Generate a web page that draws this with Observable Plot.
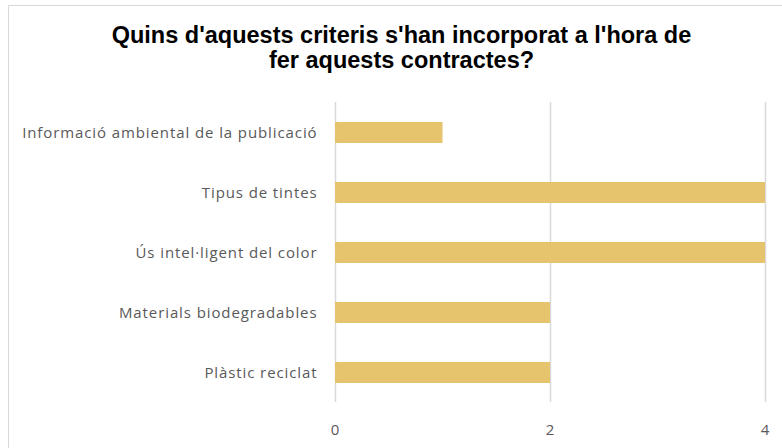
<!DOCTYPE html>
<html>
<head>
<meta charset="utf-8">
<script src="https://cdn.jsdelivr.net/npm/d3@7"></script>
<script src="https://cdn.jsdelivr.net/npm/@observablehq/plot@0.6"></script>
<style>
  html, body { margin: 0; padding: 0; background: #fff; }
  #wrap { position: relative; width: 782px; height: 448px; overflow: hidden; }
  #frame { position: absolute; left: 8px; top: 5px; width: 800px; height: 500px; border: 1px solid #d9d9d9; box-sizing: border-box; }
  #title { position: absolute; left: 8px; width: 787px; top: 23px; text-align: center;
           font-family: "Liberation Sans", Arial, sans-serif; font-weight: bold; font-size: 23.5px; line-height: 25px; color: #000; }
  #chart { position: absolute; left: 0; top: 90px; }
  #chart svg text { font-family: "Open Sans", sans-serif !important; font-size: 15px !important; letter-spacing: 0.9px; fill: #595959; }
</style>
</head>
<body>
<div id="wrap">
  <div id="frame"></div>
  <div id="title">Quins d'aquests criteris s'han incorporat a l'hora de<br>fer aquests contractes?</div>
  <div id="chart"></div>
</div>
<script>
const categories = [
  "Informació ambiental de la publicació",
  "Tipus de tintes",
  "Ús intel·ligent del color",
  "Materials biodegradables",
  "Plàstic reciclat"
];
const values = [1, 4, 4, 2, 2];
const xTicks = [0, 2, 4];

const data = categories.map((c, i) => ({category: c, value: values[i]}));

const chart = Plot.plot({
  width: 782,
  height: 358,
  marginLeft: 335,
  marginRight: 17,
  marginTop: 12,
  marginBottom: 46,
  style: {color: "#595959", background: "transparent"},
  x: {domain: [0, 4], ticks: xTicks, tickFormat: "d", tickSize: 0, tickPadding: 22, label: null, grid: false},
  y: {domain: categories, paddingInner: 0.65, paddingOuter: 0.325, tickSize: 0, tickPadding: 18, label: null},
  marks: [
    Plot.ruleX(xTicks, {stroke: "#d9d9d9", strokeWidth: 1.5}),
    Plot.barX(data, {x: "value", y: "category", fill: "#E6C46E"})
  ]
});
document.getElementById("chart").appendChild(chart);
</script>
</body>
</html>
